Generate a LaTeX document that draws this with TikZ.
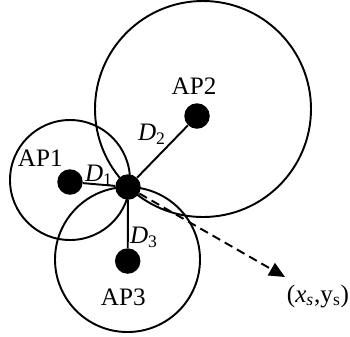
\documentclass[tikz,border=0pt]{standalone}
\usepackage{fontspec}
\setmainfont{Liberation Serif}
\usepackage{tikz}
\usetikzlibrary{arrows.meta,positioning}
\tikzset{
	apdot/.style={circle, fill=black, inner sep=0pt, minimum size=0.51cm},
	coverage/.style={line width=1.1pt},
	link/.style={line width=1.1pt},
	dasharrow/.style={-{Triangle[length=9pt, width=8pt]}, dash pattern=on 5pt off 3pt, line width=1.1pt},
	lbl/.style={font=\fontsize{14.3}{17}\selectfont, inner sep=0pt}
}

\begin{document}
\begin{tikzpicture}[x=0.02cm, y=-0.02cm]
	\useasboundingbox (0,0) rectangle (350,336);
	
	%% -- Coverage circles of the access points
	\draw[coverage] (70,180) circle[radius=60];
	\draw[coverage] (203,109) circle[radius=108];
	\draw[coverage] (127.5,259.5) circle[radius=72.5];
	
	%% -- Access points and the mobile station
	\node[apdot] (ap1) at (70,182) {};
	\node[apdot] (ap2) at (197,116) {};
	\node[apdot] (ap3) at (127.7,261) {};
	\node[apdot] (ms) at (128,187) {};
	
	\node[lbl] (ap1lbl) at (40.3,158.3) {AP1};
	\node[lbl] (ap2lbl) at (194,86.5) {AP2};
	\node[lbl] (ap3lbl) at (123.3,297.5) {AP3};
	
	%% -- Distances
	\draw[link] (ap1) -- (ms);
	\draw[link] (ap2) -- (ms);
	\draw[link] (ap3) -- (ms);
	
	\node[lbl] (d1) at (99,175) {\textit{D}\textsubscript{1}};
	\node[lbl] (d2) at (152,134) {\textit{D}\textsubscript{2}};
	\node[lbl] (d3) at (144,237) {\textit{D}\textsubscript{3}};
	
	%% -- Estimated position
	\coordinate (tgt) at (285,277);
	\draw[dasharrow] (ms) -- (tgt);
	\node[lbl] (xs) at (318,296) {(\textit{x}\textsubscript{\textit{s}},y\textsubscript{s})};
	
\end{tikzpicture}
\end{document}
